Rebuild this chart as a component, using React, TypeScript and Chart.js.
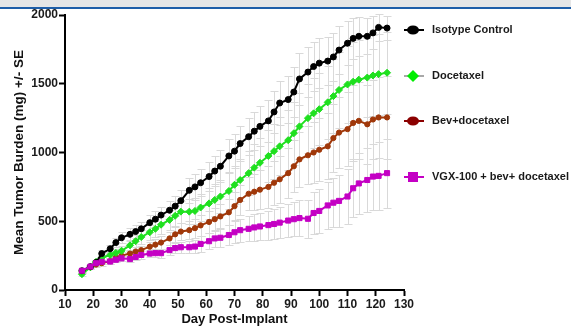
import React, { useEffect, useRef } from "react";
import { Chart, registerables } from "chart.js";

Chart.register(...registerables);

const days = [16, 19, 21, 23, 26, 28, 30, 33, 35, 37, 40, 42, 44, 47, 49, 51, 54, 56, 58, 61, 63, 65, 68, 70, 72, 75, 77, 79, 82, 84, 86, 89, 91, 93, 96, 98, 100, 103, 105, 107, 110, 112, 114, 117, 119, 121, 124];

const isotype = [140, 170, 200, 265, 300, 345, 380, 405, 425, 445, 490, 515, 545, 580, 610, 650, 725, 750, 780, 825, 865, 900, 975, 1010, 1065, 1115, 1155, 1190, 1230, 1295, 1360, 1385, 1440, 1535, 1585, 1625, 1650, 1665, 1695, 1745, 1795, 1830, 1845, 1845, 1870, 1910, 1905];
const docetaxel = [115, 165, 205, 235, 255, 270, 285, 325, 355, 385, 420, 445, 475, 510, 540, 570, 570, 575, 600, 630, 655, 680, 720, 765, 800, 850, 890, 925, 975, 1010, 1045, 1090, 1140, 1190, 1250, 1285, 1315, 1365, 1410, 1455, 1495, 1515, 1530, 1545, 1560, 1570, 1580];
const bevDoc = [135, 165, 185, 195, 210, 235, 250, 265, 280, 290, 315, 330, 345, 375, 405, 425, 435, 450, 470, 495, 515, 535, 565, 610, 655, 700, 715, 730, 750, 780, 805, 850, 900, 950, 980, 1000, 1020, 1045, 1105, 1145, 1170, 1215, 1230, 1205, 1240, 1255, 1255];
const vgx = [140, 170, 195, 205, 207, 220, 230, 225, 240, 255, 265, 268, 268, 290, 305, 311, 311, 316, 335, 355, 375, 380, 400, 420, 435, 445, 455, 462, 472, 480, 490, 505, 515, 523, 518, 560, 575, 615, 635, 648, 680, 740, 775, 800, 825, 830, 850];

const isotypeSE = [10, 15, 20, 25, 30, 35, 40, 45, 45, 50, 55, 60, 60, 65, 70, 80, 90, 95, 100, 105, 110, 115, 120, 125, 130, 135, 140, 145, 150, 155, 160, 170, 180, 190, 180, 175, 180, 175, 175, 175, 160, 150, 140, 130, 120, 100, 90];
const docetaxelSE = [10, 12, 15, 20, 25, 30, 35, 40, 45, 50, 55, 60, 65, 70, 75, 80, 90, 95, 100, 110, 115, 120, 130, 140, 150, 160, 170, 180, 190, 200, 210, 220, 230, 240, 250, 255, 260, 265, 270, 275, 280, 285, 290, 290, 295, 295, 300];
const bevDocSE = [10, 12, 15, 18, 20, 22, 25, 28, 30, 32, 35, 40, 45, 50, 55, 60, 65, 70, 75, 80, 85, 90, 95, 100, 110, 120, 130, 140, 150, 160, 170, 180, 190, 200, 210, 220, 230, 240, 250, 260, 270, 275, 280, 285, 290, 295, 300];
const vgxSE = [8, 10, 12, 14, 16, 18, 20, 22, 24, 26, 28, 30, 32, 35, 38, 40, 45, 50, 55, 60, 65, 70, 75, 80, 85, 90, 95, 100, 105, 110, 115, 120, 125, 130, 140, 150, 160, 170, 180, 190, 200, 210, 220, 230, 240, 245, 250];

const seriesNames = ["Isotype Control", "Docetaxel", "Bev+docetaxel", "VGX-100 + bev+ docetaxel"];
const xTitle = "Day Post-Implant";
const yTitle = "Mean Tumor Burden (mg) +/- SE";

const FONT = "'Liberation Sans', Arial, sans-serif";

export default function App() {
  const ref = useRef<HTMLCanvasElement | null>(null);

  useEffect(() => {
    const canvas = ref.current;
    if (!canvas) return;

    const values = [isotype, docetaxel, bevDoc, vgx];
    const errors = [isotypeSE, docetaxelSE, bevDocSE, vgxSE];
    const colors = ["#000000", "#1fe01f", "#a0380a", "#c400c4"];
    const pointStyles = ["circle", "rectRot", "circle", "rect"];
    const radii = [3, 3.5, 2.6, 3.6];
    const orders = [1, 2, 3, 0];

    const datasets = values.map((vals, i) => ({
      label: seriesNames[i],
      data: days.map((d, j) => ({ x: d, y: vals[j] })),
      borderColor: colors[i],
      backgroundColor: colors[i],
      borderWidth: 2,
      pointStyle: pointStyles[i] as any,
      pointRadius: radii[i],
      pointBorderWidth: 1,
      pointBorderColor: colors[i],
      pointBackgroundColor: colors[i],
      tension: 0,
      order: orders[i],
    }));

    const errorBars = {
      id: "errorBars",
      beforeDatasetsDraw(chart: any) {
        const ctx = chart.ctx;
        const xs = chart.scales.x;
        const ys = chart.scales.y;
        ctx.save();
        ctx.strokeStyle = "#d9d9d9";
        ctx.lineWidth = 1;
        errors.forEach((errs, i) => {
          days.forEach((d, j) => {
            const x = Math.round(xs.getPixelForValue(d)) + 0.5;
            const top = Math.round(ys.getPixelForValue(values[i][j] + errs[j])) + 0.5;
            const bot = Math.round(ys.getPixelForValue(values[i][j] - errs[j])) + 0.5;
            ctx.beginPath();
            ctx.moveTo(x, top);
            ctx.lineTo(x, bot);
            ctx.moveTo(x - 4, top);
            ctx.lineTo(x + 4, top);
            ctx.moveTo(x - 4, bot);
            ctx.lineTo(x + 4, bot);
            ctx.stroke();
          });
        });
        ctx.restore();
      },
    };

    const header = {
      id: "header",
      beforeDraw(chart: any) {
        const ctx = chart.ctx;
        ctx.save();
        ctx.fillStyle = "#ffffff";
        ctx.fillRect(0, 0, chart.width, chart.height);
        ctx.fillStyle = "#e6e6e6";
        ctx.fillRect(0, 0, chart.width, 7);
        ctx.fillStyle = "#1f5ea8";
        ctx.fillRect(0, 7, chart.width, 2);
        ctx.restore();
      },
    };

    const legend = {
      id: "customLegend",
      afterDraw(chart: any) {
        const ctx = chart.ctx;
        const ys = [30, 76, 121, 177];
        const lineColors = ["#000000", "#a8a8a8", "#8b0000", "#c400c4"];
        const markColors = ["#000000", "#00ee00", "#8b0000", "#c400c4"];
        ctx.save();
        ys.forEach((y, i) => {
          const cx = 413;
          ctx.strokeStyle = lineColors[i];
          ctx.lineWidth = 2;
          ctx.beginPath();
          ctx.moveTo(404, y);
          ctx.lineTo(424, y);
          ctx.stroke();
          ctx.fillStyle = markColors[i];
          ctx.beginPath();
          if (i === 0 || i === 2) {
            ctx.ellipse(cx, y, 6, 4.5, 0, 0, Math.PI * 2);
          } else if (i === 1) {
            ctx.moveTo(cx, y - 6);
            ctx.lineTo(cx + 6, y);
            ctx.lineTo(cx, y + 6);
            ctx.lineTo(cx - 6, y);
            ctx.closePath();
          } else {
            ctx.rect(cx - 5, y - 5, 10, 10);
          }
          ctx.fill();
          ctx.fillStyle = "#1a1a1a";
          ctx.font = "bold 11px " + FONT;
          ctx.textAlign = "left";
          ctx.textBaseline = "middle";
          ctx.fillText(seriesNames[i], 432, y);
        });
        ctx.restore();
      },
    };

    const chart = new Chart(canvas, {
      type: "line",
      data: { datasets },
      options: {
        animation: false,
        responsive: false,
        layout: { padding: { left: 0, right: 167, top: 15, bottom: 0 } },
        plugins: { legend: { display: false }, tooltip: { enabled: false } },
        scales: {
          x: {
            type: "linear",
            min: 10,
            max: 130,
            afterFit(scale: any) {
              scale.height = 37;
            },
            ticks: {
              stepSize: 10,
              padding: 1,
              color: "#1a1a1a",
              font: { family: FONT, size: 12, weight: "bold" },
              maxRotation: 0,
              autoSkip: false,
              callback: (v: any) => String(v),
            },
            grid: { drawOnChartArea: false, drawTicks: true, tickLength: 6, tickColor: "#000", tickWidth: 2 },
            border: { display: true, color: "#000", width: 2 },
            title: {
              display: true,
              text: xTitle,
              color: "#111",
              font: { family: FONT, size: 13, weight: "bold" },
              padding: { top: 0, bottom: 0 },
            },
          },
          y: {
            min: 0,
            max: 2000,
            afterFit(scale: any) {
              scale.width = 65;
            },
            ticks: {
              stepSize: 500,
              padding: 1,
              color: "#1a1a1a",
              font: { family: FONT, size: 12, weight: "bold" },
              callback: (v: any) => String(v),
            },
            grid: { drawOnChartArea: false, drawTicks: true, tickLength: 6, tickColor: "#000", tickWidth: 2 },
            border: { display: true, color: "#000", width: 2 },
            title: {
              display: true,
              text: yTitle,
              color: "#111",
              font: { family: FONT, size: 13.5, weight: "bold" },
              padding: { top: 11, bottom: 0 },
            },
          },
        },
      },
      plugins: [header, errorBars, legend],
    });

    return () => chart.destroy();
  }, []);

  return (
    <div style={{ position: "fixed", left: 0, top: 0, width: 571, height: 327, background: "#fff" }}>
      <canvas ref={ref} width={571} height={327} style={{ display: "block", width: 571, height: 327 }} />
    </div>
  );
}
